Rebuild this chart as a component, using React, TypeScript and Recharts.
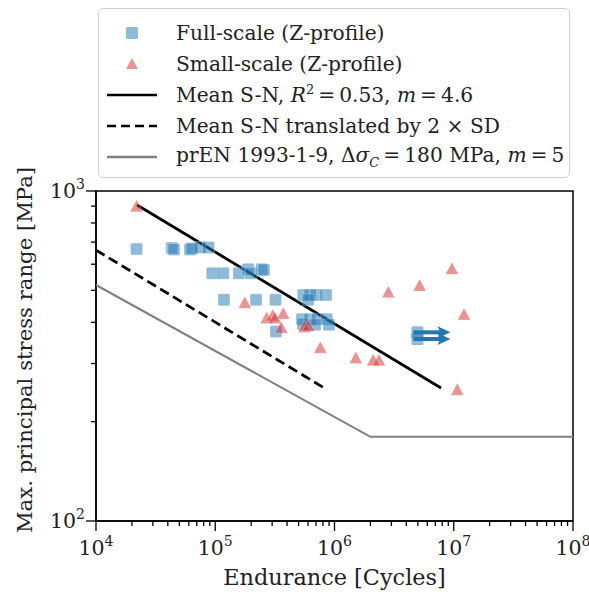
import React from 'react';
import { ScatterChart, Scatter, XAxis, YAxis, ReferenceArea } from 'recharts';

// full-scale tests (cycles, MPa)
const fullScale = [
  { x: 21900, y: 667 }, { x: 43200, y: 672 }, { x: 45100, y: 665 }, { x: 61400, y: 665 },
  { x: 63800, y: 670 }, { x: 74500, y: 674 }, { x: 87800, y: 674 }, { x: 94400, y: 563 },
  { x: 116800, y: 563 }, { x: 158000, y: 563 }, { x: 189000, y: 579 }, { x: 199500, y: 563 },
  { x: 245000, y: 579 }, { x: 256000, y: 576 }, { x: 118300, y: 468 }, { x: 220000, y: 468 },
  { x: 320000, y: 468 }, { x: 323000, y: 375 }, { x: 547000, y: 484 }, { x: 623000, y: 484 },
  { x: 700000, y: 484 }, { x: 849000, y: 484 }, { x: 600000, y: 468 }, { x: 533000, y: 409 },
  { x: 623000, y: 409 }, { x: 718000, y: 409 }, { x: 861000, y: 409 }, { x: 544000, y: 395 },
  { x: 686000, y: 393 }, { x: 899000, y: 393 },
];

// run-outs (arrow to the right)
const runOuts = [
  { x: 4960000, y: 373 },
  { x: 4960000, y: 356 },
];

const smallScale = [
  { x: 21900, y: 896 }, { x: 177000, y: 457 }, { x: 270000, y: 411 }, { x: 303000, y: 418 },
  { x: 317000, y: 411 }, { x: 372000, y: 424 }, { x: 358000, y: 384 }, { x: 558000, y: 386 },
  { x: 603000, y: 389 }, { x: 760000, y: 334 }, { x: 1510000, y: 311 }, { x: 2110000, y: 306 },
  { x: 2360000, y: 306 }, { x: 2830000, y: 492 }, { x: 5180000, y: 515 }, { x: 9660000, y: 579 },
  { x: 12200000, y: 421 }, { x: 10700000, y: 249 },
];

const meanLine = [{ x: 22100, y: 907 }, { x: 7820000, y: 253 }];
const meanMinus2SD = [{ x: 10000, y: 662 }, { x: 850000, y: 251 }];
const prEN = [{ x: 10000, y: 519 }, { x: 2000000, y: 180 }, { x: 100000000, y: 180 }];

const xDecades = [1e4, 1e5, 1e6, 1e7, 1e8];
const minorSteps = [2, 3, 4, 5, 6, 7, 8, 9];

const xTicks = xDecades.flatMap((d, i) => (i < xDecades.length - 1 ? [d, ...minorSteps.map((s) => d * s)] : [d]));
const yTicks = [100, ...minorSteps.map((s) => s * 100), 1000];

const FONT = '"DejaVu Serif", serif';
const BLUE = '#1f77b4';
const RED = '#d62728';

const isMajor = (v: number) => {
  const e = Math.round(Math.log10(v));
  return Math.abs(v - Math.pow(10, e)) < 1e-6 * v;
};

const XTick = (props: any) => {
  const { x, y, payload } = props;
  const v = payload.value;
  const major = isMajor(v);
  return (
    <g>
      <line x1={x} x2={x} y1={y} y2={y + (major ? 10 : 5)} stroke="#000" strokeWidth={1.3} />
      {major && (
        <text x={x} y={y + 34} textAnchor="middle" fontFamily={FONT} fontSize={20.5} fill="#222">
          10<tspan dy={-9} fontSize={14}>{Math.round(Math.log10(v))}</tspan>
        </text>
      )}
    </g>
  );
};

const YTick = (props: any) => {
  const { x, y, payload } = props;
  const v = payload.value;
  const major = isMajor(v);
  return (
    <g>
      <line x1={x} x2={x - (major ? 10 : 5)} y1={y} y2={y} stroke="#000" strokeWidth={1.3} />
      {major && (
        <text x={x - 11} y={y + 7} textAnchor="end" fontFamily={FONT} fontSize={20.5} fill="#222">
          10<tspan dy={-9} fontSize={14}>{Math.round(Math.log10(v))}</tspan>
        </text>
      )}
    </g>
  );
};

const Square = (props: any) => {
  const { cx, cy } = props;
  return (
    <rect x={cx - 6} y={cy - 6} width={12} height={12} rx={1.5} fill={BLUE} fillOpacity={0.5}
      stroke="#fff" strokeOpacity={0.35} strokeWidth={0.8} />
  );
};

const Triangle = (props: any) => {
  const { cx, cy } = props;
  return (
    <polygon points={`${cx},${cy - 7} ${cx - 6.5},${cy + 5} ${cx + 6.5},${cy + 5}`} fill={RED}
      fillOpacity={0.5} stroke="#fff" strokeOpacity={0.35} strokeWidth={0.8} strokeLinejoin="round" />
  );
};

const RunOut = (props: any) => {
  const { cx, cy } = props;
  return (
    <g>
      <rect x={cx - 6} y={cy - 6} width={12} height={12} rx={1.5} fill={BLUE} fillOpacity={0.5} />
      <line x1={cx - 4} x2={cx + 24} y1={cy} y2={cy} stroke={BLUE} strokeWidth={4} />
      <polygon points={`${cx + 20},${cy - 6} ${cx + 33},${cy} ${cx + 20},${cy + 6} ${cx + 23},${cy}`} fill={BLUE} />
    </g>
  );
};

const NoDot = () => <g />;

const XLabel = () => (
  <text x={334.5} y={585} textAnchor="middle" fontFamily={FONT} fontSize={22.4} fill="#222">Endurance [Cycles]</text>
);

const YLabel = () => (
  <text x={32} y={350} transform="rotate(-90 32 350)" textAnchor="middle" fontFamily={FONT} fontSize={21.2} fill="#222">
    Max. principal stress range [MPa]
  </text>
);

const legendRow: React.CSSProperties = { display: 'flex', alignItems: 'center', height: 31 };
const legendText: React.CSSProperties = { fontFamily: FONT, fontSize: 20.2, color: '#222', whiteSpace: 'nowrap' };

const LegendBox = () => (
  <div style={{ position: 'absolute', left: 98, top: 8, width: 472, height: 170, boxSizing: 'border-box',
    border: '1.5px solid #d0d0d0', borderRadius: 5, background: 'rgba(255,255,255,0.8)', padding: '8px 0 0 8px' }}>
    <div style={legendRow}>
      <svg width={69} height={20}><rect x={19} y={4} width={12} height={12} rx={1.5} fill={BLUE} fillOpacity={0.5} /></svg>
      <span style={legendText}>Full-scale (Z-profile)</span>
    </div>
    <div style={legendRow}>
      <svg width={69} height={20}><polygon points="25,4 19,15 31,15" fill={RED} fillOpacity={0.5} /></svg>
      <span style={legendText}>Small-scale (Z-profile)</span>
    </div>
    <div style={legendRow}>
      <svg width={69} height={20}><line x1={0} x2={50} y1={10} y2={10} stroke="#000" strokeWidth={2.5} /></svg>
      <span style={legendText}>Mean S-N, <i>R</i><sup style={{ fontSize: 13 }}>2</sup>&thinsp;=&thinsp;0.53, <i>m</i>&thinsp;=&thinsp;4.6</span>
    </div>
    <div style={legendRow}>
      <svg width={69} height={20}><line x1={0} x2={50} y1={10} y2={10} stroke="#000" strokeWidth={2.5} strokeDasharray="9 5" /></svg>
      <span style={legendText}>Mean S-N translated by 2 × SD</span>
    </div>
    <div style={legendRow}>
      <svg width={69} height={20}><line x1={0} x2={50} y1={10} y2={10} stroke="#808080" strokeWidth={2.5} /></svg>
      <span style={legendText}>prEN 1993-1-9, Δ<i>σ</i><sub style={{ fontSize: 13 }}><i>C</i></sub>&thinsp;=&thinsp;180 MPa, <i>m</i>&thinsp;=&thinsp;5</span>
    </div>
  </div>
);

export default function App() {
  return (
    <div style={{ position: 'absolute', left: 0, top: 0, width: 589, height: 602, background: '#fff' }}>
      <ScatterChart width={589} height={602} margin={{ top: 191, right: 16, bottom: 0, left: 0 }}>
        <XAxis type="number" dataKey="x" scale="log" domain={[1e4, 1e8]} ticks={xTicks} interval={0}
          allowDataOverflow height={81} tickSize={0} tickMargin={0} tick={<XTick />}
          axisLine={{ stroke: '#000', strokeWidth: 1.5 }} label={<XLabel />} />
        <YAxis type="number" dataKey="y" scale="log" domain={[100, 1000]} ticks={yTicks} interval={0}
          allowDataOverflow width={96} tickSize={0} tickMargin={0} tick={<YTick />}
          axisLine={{ stroke: '#000', strokeWidth: 1.5 }} label={<YLabel />} />
        <ReferenceArea x1={1e4} x2={1e8} y1={100} y2={1000} fill="none" stroke="#000" strokeWidth={1.5} ifOverflow="visible" />
        <Scatter data={prEN} line={{ stroke: '#808080', strokeWidth: 2 }} shape={NoDot} isAnimationActive={false} />
        <Scatter data={meanMinus2SD} line={{ stroke: '#000', strokeWidth: 2.8, strokeDasharray: '10 5' }} shape={NoDot} isAnimationActive={false} />
        <Scatter data={meanLine} line={{ stroke: '#000', strokeWidth: 2.8 }} shape={NoDot} isAnimationActive={false} />
        <Scatter data={fullScale} shape={Square} isAnimationActive={false} />
        <Scatter data={runOuts} shape={RunOut} isAnimationActive={false} />
        <Scatter data={smallScale} shape={Triangle} isAnimationActive={false} />
      </ScatterChart>
      <LegendBox />
    </div>
  );
}
